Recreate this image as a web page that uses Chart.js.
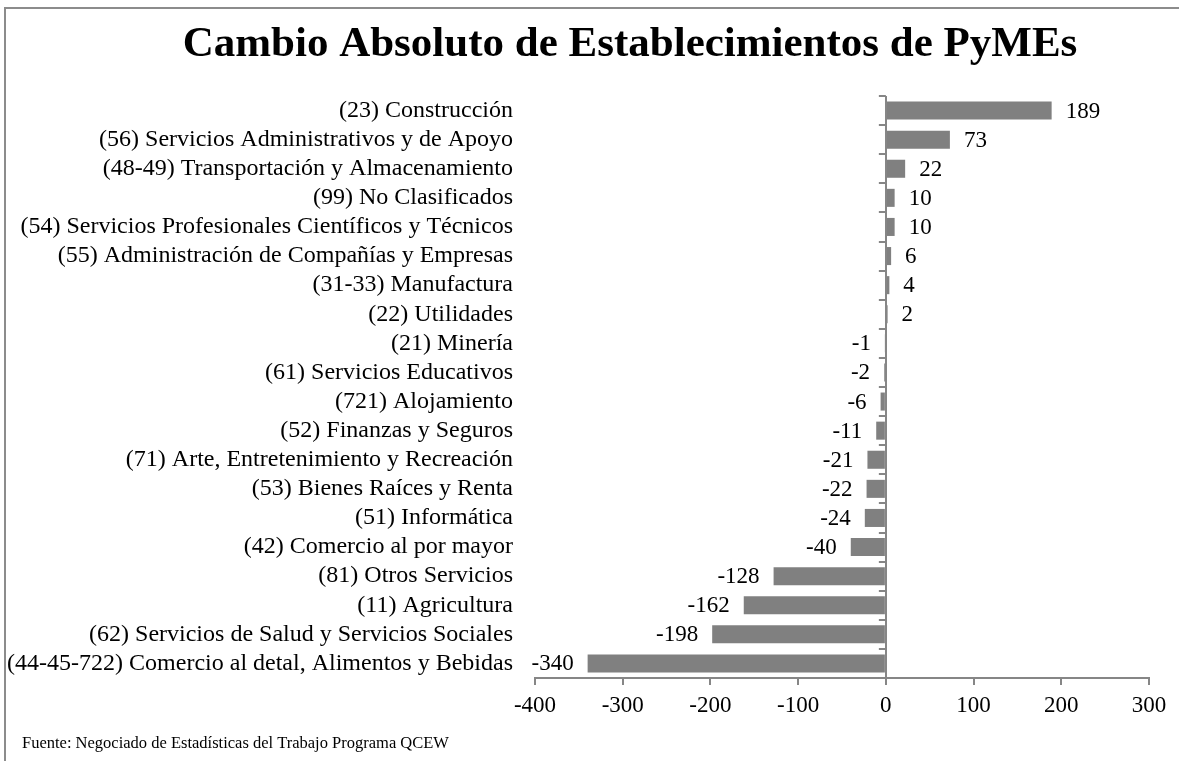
<!DOCTYPE html>
<html>
<head>
<meta charset="utf-8">
<script src="https://cdn.jsdelivr.net/npm/chart.js@4.4.1/dist/chart.umd.min.js"></script>
<style>
html,body{margin:0;padding:0;background:#fff;overflow:hidden;}
canvas{display:block;}
</style>
</head>
<body>
<canvas id="c" width="1179" height="761"></canvas>
<script>
const titleText = "Cambio Absoluto de Establecimientos de PyMEs";
const sourceText = "Fuente: Negociado de Estadísticas del Trabajo Programa QCEW";
const categories = [
  "(23) Construcción",
  "(56) Servicios Administrativos y de Apoyo",
  "(48-49) Transportación y Almacenamiento",
  "(99) No Clasificados",
  "(54) Servicios Profesionales Científicos y Técnicos",
  "(55) Administración de Compañías y Empresas",
  "(31-33) Manufactura",
  "(22) Utilidades",
  "(21) Minería",
  "(61) Servicios Educativos",
  "(721) Alojamiento",
  "(52) Finanzas y Seguros",
  "(71) Arte, Entretenimiento y Recreación",
  "(53) Bienes Raíces y Renta",
  "(51) Informática",
  "(42) Comercio al por mayor",
  "(81) Otros Servicios",
  "(11) Agricultura",
  "(62) Servicios de Salud y Servicios Sociales",
  "(44-45-722) Comercio al detal, Alimentos y Bebidas"
];
const values = [189, 73, 22, 10, 10, 6, 4, 2, -1, -2, -6, -11, -21, -22, -24, -40, -128, -162, -198, -340];
const xMin = -400, xMax = 300, xStep = 100;

const FONT = '"Liberation Serif", "Times New Roman", serif';
const AXIS = '#868686';
const BAR = '#808080';

const framePlugin = {
  id: 'frame',
  beforeDraw(chart) {
    const ctx = chart.ctx;
    ctx.save();
    ctx.fillStyle = '#fff';
    ctx.fillRect(0, 0, chart.width, chart.height);
    ctx.strokeStyle = '#8c8c8c';
    ctx.lineWidth = 2;
    ctx.strokeRect(5, 8, chart.width + 20, chart.height + 20);
    ctx.fillStyle = '#000';
    ctx.font = 'bold 43px ' + FONT;
    ctx.textAlign = 'center';
    ctx.textBaseline = 'alphabetic';
    ctx.fillText(titleText, 630, 56);
    ctx.font = '16.5px ' + FONT;
    ctx.textAlign = 'left';
    ctx.fillText(sourceText, 22, 748);
    ctx.restore();
  }
};

const zeroTicksPlugin = {
  id: 'zeroTicks',
  afterDatasetsDraw(chart) {
    const ctx = chart.ctx;
    const xs = chart.scales.x, ys = chart.scales.y;
    const x0 = xs.getPixelForValue(0);
    const half = (ys.getPixelForValue(1) - ys.getPixelForValue(0)) / 2;
    ctx.save();
    ctx.strokeStyle = AXIS;
    ctx.lineWidth = 2;
    ctx.beginPath();
    for (let i = 0; i <= categories.length; i++) {
      const y = Math.round(ys.getPixelForValue(i) - half);
      ctx.moveTo(x0 - 7, y);
      ctx.lineTo(x0, y);
    }
    ctx.stroke();
    // value labels
    ctx.fillStyle = '#000';
    ctx.font = '23px ' + FONT;
    ctx.textBaseline = 'middle';
    const meta = chart.getDatasetMeta(0);
    meta.data.forEach((el, i) => {
      const v = values[i];
      if (v >= 0) {
        ctx.textAlign = 'left';
        ctx.fillText(String(v), el.x + 14, el.y + 1);
      } else {
        ctx.textAlign = 'right';
        ctx.fillText(String(v), el.x - 14, el.y + 1);
      }
    });
    ctx.restore();
  }
};

new Chart(document.getElementById('c'), {
  type: 'bar',
  data: {
    labels: categories,
    datasets: [{
      data: values,
      backgroundColor: BAR,
      borderWidth: 0,
      barPercentage: 0.62,
      categoryPercentage: 1.0
    }]
  },
  options: {
    indexAxis: 'y',
    responsive: false,
    devicePixelRatio: 1,
    animation: false,
    layout: { padding: { top: 96, left: 0, right: 30, bottom: 33 } },
    plugins: {
      legend: { display: false },
      title: { display: false },
      tooltip: { enabled: false }
    },
    scales: {
      x: {
        type: 'linear',
        min: xMin,
        max: xMax,
        afterFit(scale) { scale.height = 50; },
        ticks: {
          stepSize: xStep,
          color: '#000',
          font: { family: FONT, size: 23 },
          padding: 7,
          maxRotation: 0
        },
        grid: {
          drawOnChartArea: true,
          color: (c) => (c.tick && c.tick.value === 0) ? AXIS : 'rgba(0,0,0,0)',
          lineWidth: 2,
          tickColor: AXIS,
          tickLength: 7,
          tickWidth: 2
        },
        border: { display: true, color: AXIS, width: 2 }
      },
      y: {
        type: 'category',
        position: 'left',
        afterFit(scale) { scale.width = 535; },
        ticks: {
          color: '#000',
          font: { family: FONT, size: 24 },
          padding: 22,
          autoSkip: false
        },
        grid: { display: false, drawTicks: false },
        border: { display: false }
      }
    }
  },
  plugins: [framePlugin, zeroTicksPlugin]
});
</script>
</body>
</html>
